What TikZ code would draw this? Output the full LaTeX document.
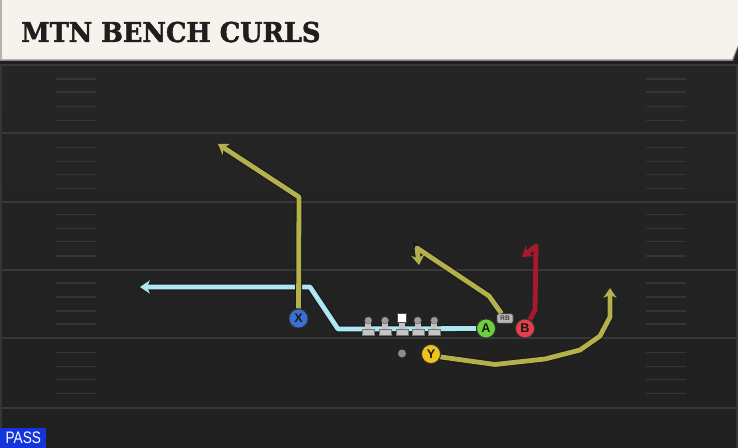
\documentclass[tikz,border=0pt]{standalone}
\usepackage{fontspec}
\usetikzlibrary{arrows.meta}
\newfontfamily\titlefont[FakeStretch=0.94,FakeBold=1.6]{DejaVu Serif}
\newfontfamily\passfont[FakeStretch=0.82]{Liberation Sans}
\newfontfamily\plfont{Liberation Sans}
\definecolor{fieldtop}{HTML}{262626}
\definecolor{fieldbot}{HTML}{202020}
\definecolor{yard}{HTML}{383838}
\definecolor{hashc}{HTML}{353535}
\definecolor{cream}{HTML}{F5F3EC}
\definecolor{headshadow}{HTML}{8A8A8A}
\definecolor{titlecol}{HTML}{1E1E1E}
\definecolor{oliver}{HTML}{B4B04C}
\definecolor{cyanr}{HTML}{AEE6F4}
\definecolor{redr}{HTML}{A8192E}
\definecolor{pblue}{HTML}{3C6FD6}
\definecolor{pgreen}{HTML}{6CD03C}
\definecolor{pred}{HTML}{E4404A}
\definecolor{pyellow}{HTML}{F0C21E}
\definecolor{passblue}{HTML}{1434DC}
\definecolor{olbody}{HTML}{C4C4C4}
\definecolor{olhead}{HTML}{9C9C9C}
\definecolor{rbgray}{HTML}{B8B8B8}
\pgfdeclarelayer{bg}
\pgfdeclarelayer{routes}
\pgfsetlayers{bg,routes,main}
\begin{document}
\begin{tikzpicture}[x=0.75pt,y=-0.75pt,
  player/.style={circle, minimum size=14.3pt, inner sep=0pt, draw=black!80, line width=0.7pt,
    font=\plfont\bfseries\fontsize{9.5pt}{9.5pt}\selectfont, text=black!90},
  route/.style={line width=3.6pt, line join=round,
    -{Stealth[length=7.5pt, width=10pt, inset=2.4pt]},
    preaction={draw=black!90, line width=5.1pt, -{Stealth[length=8.9pt, width=12pt, inset=2.9pt]}}},
  yardline/.style={draw=yard, line width=1.5pt},
  hashmark/.style={draw=hashc, line width=1pt},
  olbase/.style={fill=olbody, draw=black!55, line width=0.3pt},
]
\useasboundingbox (0,0) rectangle (738,448);
\begin{pgfonlayer}{bg}
  \shade[top color=fieldtop, bottom color=fieldbot] (0,0) rectangle (738,448);
  \foreach \yy in {65,133,202,270,338,408} \draw[yardline] (0,\yy) -- (738,\yy);
  \foreach \yy in {79,92,106.5,120.5,147.5,161.5,174.5,188.5,214.5,228.5,241.5,256,283,297,311,324,352.5,366.5,379.5,393.5} {
    \draw[hashmark] (56,\yy) -- (96,\yy);
    \draw[hashmark] (646,\yy) -- (686,\yy);
  }
  \draw[draw=hashc, line width=1.5pt] (1,60) -- (1,448);
  \draw[draw=hashc, line width=1.5pt] (737,60) -- (737,448);
\end{pgfonlayer}

% header
\fill[black!88] (0,59) rectangle (738,64);
\fill[headshadow] (0,0) -- (738,0) -- (738,47) -- (733,61) -- (0,61) -- cycle;
\fill[cream] (0,0) -- (738,0) -- (738,45) -- (732,59.5) -- (0,59.5) -- cycle;
\fill[black!30] (0,0) rectangle (2,59.5);
\node[anchor=base west, inner sep=0pt, text=titlecol,
  font=\titlefont\bfseries\fontsize{20.5pt}{20.5pt}\selectfont] (title) at (21,42) {MTN BENCH CURLS};

% pass label
\node[anchor=south west, fill=passblue, text=white, minimum width=34.5pt, minimum height=15pt, inner sep=0pt,
  font=\passfont\fontsize{12.5pt}{12.5pt}\selectfont] (pass) at (0,448) {PASS};

% players
\node[player, fill=pblue] (X) at (298.5,318.5) {X};
\node[player, fill=pgreen] (A) at (486,328.5) {A};
\node[player, fill=pred] (B) at (525,328.5) {B};
\node[player, fill=pyellow] (Y) at (431,354) {Y};
\node[rounded corners=1.5pt, fill=rbgray, draw=black!70, line width=0.4pt, minimum width=12pt, minimum height=7pt,
  inner sep=0pt, font=\plfont\bfseries\fontsize{5pt}{5pt}\selectfont, text=black!75] (RB) at (505,318.5) {RB};
\node[circle, fill=black!45, minimum size=6pt, inner sep=0pt] (QB) at (402,353.5) {};

% route coordinates
\coordinate (c1) at (338,329);
\coordinate (c2) at (310,287);
\coordinate (cT) at (140,287);
\coordinate (x1) at (299,197);
\coordinate (xT) at (218,144);
\coordinate (r1) at (489,296);
\coordinate (r2) at (417,248);
\coordinate (rT) at (419,265);
\coordinate (b1) at (535,310);
\coordinate (b2) at (536,246);
\coordinate (bT) at (522,257);
\coordinate (y1) at (441,357);
\coordinate (y2) at (495,364.5);
\coordinate (y3) at (545,359);
\coordinate (y4) at (580,350);
\coordinate (y5) at (600,336);
\coordinate (y6) at (610,317);
\coordinate (yT) at (610,288);

\begin{pgfonlayer}{routes}
  \draw[route, draw=cyanr] (A) -- (c1) -- (c2) -- (cT);
  \draw[route, draw=oliver] (X) -- (x1) -- (xT);
  \draw[route, draw=oliver] (RB) -- (r1) -- (r2) -- (rT);
  \draw[route, draw=oliver] (Y) -- (y1) -- (y2) -- (y3) -- (y4) -- (y5) -- (y6) -- (yT);
  \draw[line width=3.6pt, line join=round, draw=redr, -{Stealth[length=7.5pt, width=10pt, inset=2.4pt]}]
    (B) -- (b1) -- (b2) -- (bT);
\end{pgfonlayer}

% linemen
\foreach \lx in {368.3,385,417.7,434.3} {
  \fill[olbase] (\lx-6,329) rectangle (\lx+6,335);
  \fill[olbody] (\lx-3,323) rectangle (\lx+3,329.5);
  \filldraw[fill=olhead, draw=black!60, line width=0.3pt] (\lx,320.5) circle [radius=3.6];
}
\fill[olbase] (395.7,329) rectangle (407.7,335);
\fill[olbody] (398.7,321) rectangle (404.7,329.5);
\filldraw[fill=white, draw=black!70, line width=0.4pt] (397.2,313.3) rectangle (406.2,322.3);
\end{tikzpicture}
\end{document}
